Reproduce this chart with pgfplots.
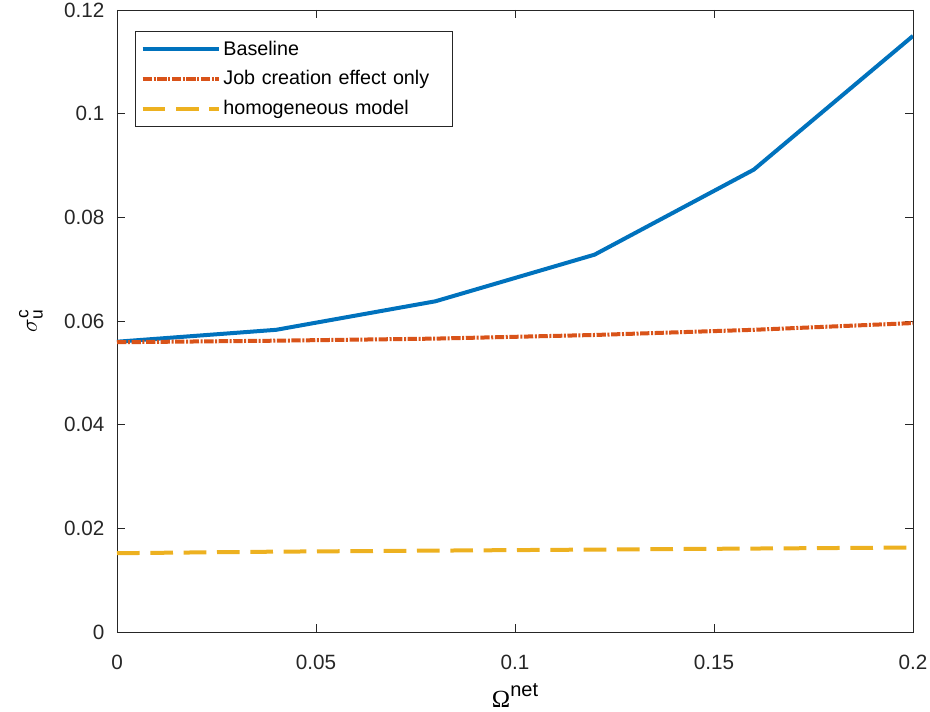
\documentclass[border=0pt]{standalone}
\usepackage{fontspec}
\setmainfont{Liberation Sans}
\newfontfamily\symfont{Liberation Serif}
\usepackage{pgfplots}
\pgfplotsset{compat=1.18}
\definecolor{mblue}{rgb}{0,0.447,0.741}
\definecolor{mred}{rgb}{0.85,0.325,0.098}
\definecolor{myellow}{rgb}{0.929,0.694,0.125}
\definecolor{axgray}{rgb}{0.15,0.15,0.15}
\begin{document}
\begin{tikzpicture}
\begin{axis}[
  name=ax,
  width=597pt, height=466.5pt,
  scale only axis,
  xmin=0, xmax=0.2, ymin=0, ymax=0.12,
  xtick={0,0.05,0.1,0.15,0.2},
  ytick={0,0.02,0.04,0.06,0.08,0.1,0.12},
  xticklabels={0,0.05,0.1,0.15,0.2},
  yticklabels={0,0.02,0.04,0.06,0.08,0.1,0.12},
  tick align=inside,
  major tick length=6pt,
  axis line style={axgray, line width=0.6pt},
  tick style={axgray, line width=0.6pt},
  ticklabel style={font=\fontsize{15.5}{18}\selectfont, text=axgray},
  xticklabel style={yshift=-14pt},
  yticklabel style={xshift=-6pt},
  xlabel={{\symfont\fontsize{18.5}{20}\selectfont Ω}\raisebox{8.5pt}{\fontsize{15}{17}\selectfont net}},
  xlabel style={at={(axis description cs:0.5,0)}, anchor=base, yshift=-56.5pt, inner sep=0pt},
  ylabel={{\fontsize{17}{19}\selectfont$\sigma^{\mbox{\fontsize{13}{13}\selectfont c}}_{\mbox{\fontsize{13}{13}\selectfont u}}$}},
  ylabel style={at={(axis description cs:-0.093,0.5)}, anchor=south, inner sep=0pt},
  legend style={at={(axis description cs:0.0226,0.9662)}, anchor=north west,
    font=\fontsize{14.8}{17}\selectfont,
    draw=axgray, line width=0.6pt, row sep=8.2pt, inner xsep=4pt, inner ysep=6pt,
    nodes={inner xsep=2pt, inner ysep=1pt, text width=166pt, align=left}},
  legend cell align=left,
  legend image code/.code={\draw[#1] (0pt,0pt) -- (57pt,0pt);},
]
\addplot[mblue, line width=3pt] coordinates {
  (0,0.0560) (0.04,0.0583) (0.08,0.0638) (0.12,0.0728) (0.16,0.0892) (0.2,0.1150)};
\addlegendentry{Baseline}
\addplot[mred, line width=3pt, dash pattern=on 7pt off 1.2pt on 1.5pt off 1.2pt] coordinates {
  (0,0.0559) (0.04,0.0562) (0.08,0.0566) (0.12,0.0573) (0.16,0.0583) (0.2,0.0596)};
\addlegendentry{Job creation effect only}
\addplot[myellow, line width=3pt, dash pattern=on 17pt off 8pt] coordinates {
  (0,0.0152) (0.04,0.0155) (0.08,0.0157) (0.12,0.0159) (0.16,0.0161) (0.2,0.0163)};
\addlegendentry{homogeneous model}
\end{axis}
\pgfresetboundingbox
\path ([shift={(-87.75pt,-60pt)}]ax.south west) rectangle ([shift={(12.75pt,7.5pt)}]ax.north east);
\end{tikzpicture}
\end{document}
